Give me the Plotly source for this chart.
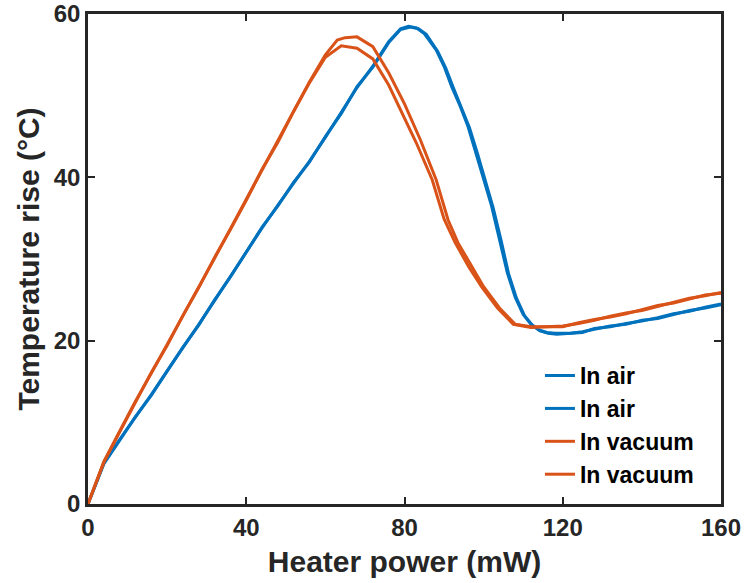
import plotly.graph_objects as go

# Heater power (mW) and temperature rise (°C) for each measurement run
air1_power = [0, 2, 4, 8, 12, 16, 20, 24, 28, 32, 36, 40, 44, 48, 52, 56, 60, 64, 68, 72,
              76, 79, 81, 83, 85, 88, 90, 92, 94, 96, 98, 100, 102, 104, 106, 108, 110, 112,
              114, 116, 118, 122, 125, 128, 132, 136, 140, 144, 148, 152, 156, 160]
air1_temp = [0, 2.6, 5.0, 7.9, 10.6, 13.4, 16.3, 19.1, 22.0, 24.9, 27.9, 30.9, 33.8, 36.6,
             39.3, 42.0, 44.9, 47.9, 51.0, 53.6, 56.6, 58.2, 58.5, 58.3, 57.6, 55.6, 53.6,
             51.0, 48.8, 46.3, 43.2, 39.8, 36.5, 32.5, 28.3, 25.3, 23.2, 22.0, 21.3, 21.0,
             20.9, 20.9, 21.0, 21.5, 21.7, 22.1, 22.4, 22.8, 23.3, 23.6, 24.1, 24.5]

air2_power = [0, 2, 4, 8, 12, 16, 20, 24, 28, 32, 36, 40, 44, 48, 52, 56, 60, 64, 68, 72,
              76, 79, 81.5, 83.5, 85.5, 88.4, 90.4, 92.4, 94.4, 96.4, 98.4, 100.4, 102.4,
              104.4, 106.3, 108.3, 110.3, 112.3, 114.3, 116.3, 118.5, 122, 125, 128, 132,
              136, 140, 144, 148, 152, 156, 160]
air2_temp = [0, 2.5, 4.9, 7.8, 10.7, 13.3, 16.2, 19.2, 21.9, 25.0, 27.8, 30.8, 33.9, 36.5,
             39.4, 41.9, 45.0, 47.8, 51.1, 53.5, 56.5, 58.1, 58.4, 58.2, 57.5, 55.4, 53.4,
             50.9, 48.6, 46.1, 43.0, 39.6, 36.3, 32.3, 28.2, 25.2, 23.1, 21.9, 21.2, 20.9,
             20.8, 20.9, 21.1, 21.4, 21.8, 22.0, 22.5, 22.7, 23.2, 23.7, 24.0, 24.4]

vac1_power = [0, 2, 4, 8, 12, 16, 20, 24, 28, 32, 36, 40, 44, 48, 52, 56, 60, 63, 65, 68,
              72, 76, 80, 84, 88, 91, 93.5, 97, 100, 104, 108, 112, 116, 120, 124, 128, 132,
              136, 140, 144, 148, 152, 156, 160]
vac1_temp = [0, 2.6, 5.2, 8.9, 12.6, 16.0, 19.5, 23.0, 26.6, 30.1, 33.7, 37.3, 40.9, 44.4,
             48.0, 51.7, 55.0, 56.8, 57.1, 57.2, 56.0, 52.8, 49.0, 44.6, 39.7, 34.8, 32.0,
             29.0, 26.6, 24.0, 22.0, 21.7, 21.7, 21.7, 22.2, 22.6, 22.9, 23.3, 23.8, 24.3,
             24.6, 25.1, 25.6, 25.8]

vac2_power = [0, 2, 4, 8, 12, 16, 20, 24, 28, 32, 36, 40, 44, 48, 52, 56, 60, 64, 68, 72,
              76, 80, 83, 87, 90, 92.8, 96.3, 99.5, 103.5, 107.5, 112, 116, 120, 124, 128,
              132, 136, 140, 144, 148, 152, 156, 160]
vac2_temp = [0, 2.5, 5.1, 8.8, 12.5, 16.1, 19.4, 23.1, 26.5, 30.2, 33.6, 37.2, 41.0, 44.3,
             48.1, 51.6, 54.7, 56.1, 55.8, 54.5, 51.3, 47.3, 44.2, 39.7, 34.9, 32.0, 29.0,
             26.6, 24.0, 22.0, 21.6, 21.7, 21.8, 22.1, 22.5, 23.0, 23.4, 23.7, 24.2, 24.7,
             25.2, 25.5, 25.9]

BLUE = "#0072BD"
ORANGE = "#D95319"
INK = "#262626"
FONT = "Liberation Sans"

runs = [
    (air1_power, air1_temp, "In air", BLUE),
    (air2_power, air2_temp, "In air", BLUE),
    (vac1_power, vac1_temp, "In vacuum", ORANGE),
    (vac2_power, vac2_temp, "In vacuum", ORANGE),
]

fig = go.Figure()
for px, ty, name, color in runs:
    fig.add_trace(go.Scatter(x=px, y=ty, mode="lines", name=name,
                             line=dict(color=color, width=3)))

axis_common = dict(
    showline=True, linecolor=INK, linewidth=2.5, mirror="ticks",
    ticks="inside", ticklen=7, tickwidth=2, tickcolor=INK,
    showgrid=False, zeroline=False, automargin=False,
    tickfont=dict(family=FONT, size=24, color=INK, weight="bold"),
)

fig.update_xaxes(range=[0, 160], tickvals=[0, 40, 80, 120, 160],
                 title=dict(text="Heater power (mW)", standoff=12,
                            font=dict(family=FONT, size=30, color=INK, weight="bold")),
                 **axis_common)
fig.update_yaxes(range=[0, 60], tickvals=[0, 20, 40, 60],
                 title=dict(text="Temperature rise (°C)", standoff=6,
                            font=dict(family=FONT, size=30, color=INK, weight="bold")),
                 **axis_common)

fig.update_layout(
    width=744, height=583,
    margin=dict(l=88, r=23, t=14, b=79),
    plot_bgcolor="white", paper_bgcolor="white",
    legend=dict(x=0.714, y=0.306, xanchor="left", yanchor="top",
                bgcolor="rgba(0,0,0,0)", borderwidth=0,
                font=dict(family=FONT, size=23, color="black", weight="bold"),
                tracegroupgap=0),
)

fig.write_html("out.html")
